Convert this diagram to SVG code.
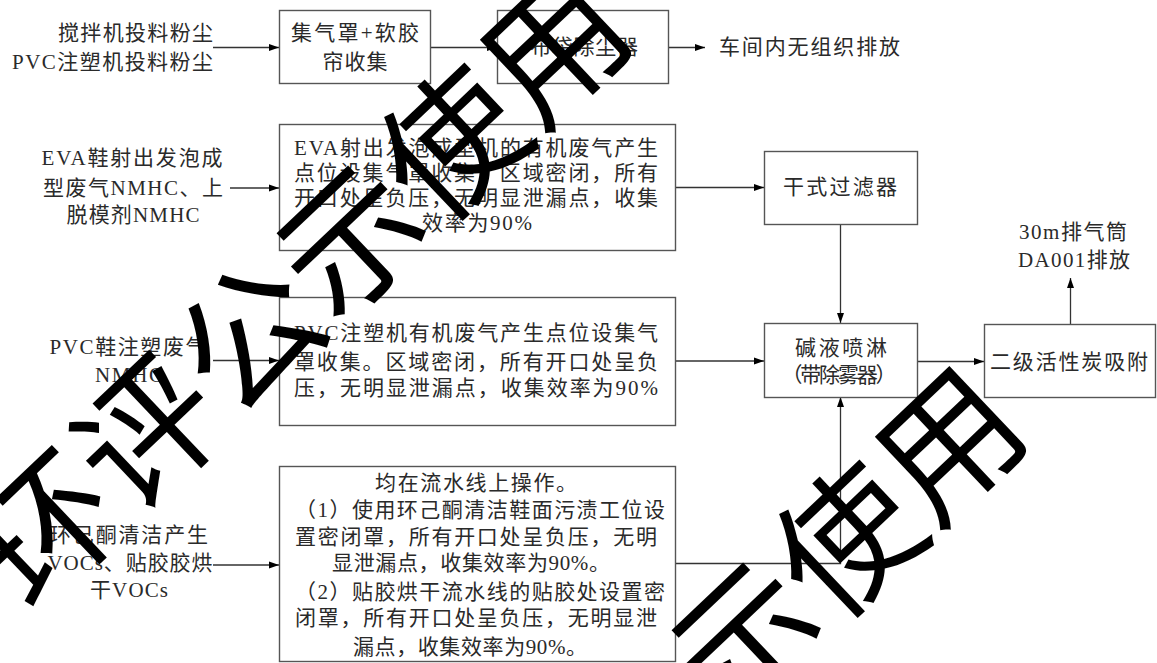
<svg xmlns="http://www.w3.org/2000/svg" width="1157" height="663" viewBox="0 0 1157 663">
<defs>
<style>
.t{font-family:"Liberation Serif","Noto Sans CJK SC",serif;font-size:21px;fill:#2a2a2a}
.c{text-anchor:middle}
.e{text-anchor:end}
.box{fill:#fff;stroke:#555;stroke-width:1.4}
.ln{fill:none;stroke:#333;stroke-width:1.3}
.wm{font-family:"Noto Sans CJK SC","Noto Sans CJK JP",sans-serif;font-size:140px;font-weight:400;fill:#000}
</style>
<marker id="ah" markerUnits="userSpaceOnUse" markerWidth="11" markerHeight="8" refX="10" refY="4" orient="auto">
<path d="M0,0.5 L10,4 L0,7.5 z" fill="#000"/>
</marker>
</defs>
<rect width="1157" height="663" fill="#fff"/>

<g id="connectors">
<line class="ln" x1="213" y1="47.5" x2="279" y2="47.5" marker-end="url(#ah)"/>
<line class="ln" x1="430" y1="47.5" x2="497" y2="47.5" marker-end="url(#ah)"/>
<line class="ln" x1="668" y1="47.5" x2="705" y2="47.5" marker-end="url(#ah)"/>
<line class="ln" x1="230" y1="188" x2="279" y2="188" marker-end="url(#ah)"/>
<line class="ln" x1="675" y1="187.5" x2="764" y2="187.5" marker-end="url(#ah)"/>
<line class="ln" x1="840.5" y1="224" x2="840.5" y2="323" marker-end="url(#ah)"/>
<line class="ln" x1="213" y1="360.5" x2="279" y2="360.5" marker-end="url(#ah)"/>
<line class="ln" x1="675" y1="361" x2="764" y2="361" marker-end="url(#ah)"/>
<line class="ln" x1="917" y1="361.5" x2="984" y2="361.5" marker-end="url(#ah)"/>
<line class="ln" x1="1070.5" y1="324" x2="1070.5" y2="278" marker-end="url(#ah)"/>
<line class="ln" x1="213" y1="565" x2="279" y2="565" marker-end="url(#ah)"/>
<polyline class="ln" points="675,563.5 840.5,563.5 840.5,397" marker-end="url(#ah)"/>
</g>

<g id="label-dust">
<text class="t e" x="213" y="40" textLength="155">搅拌机投料粉尘</text>
<text class="t e" x="213" y="69" textLength="201">PVC注塑机投料粉尘</text>
</g>
<g id="node-hood">
<rect class="box" x="279.5" y="10.5" width="151" height="73"/>
<text class="t c" x="355" y="40" textLength="128">集气罩+软胶</text>
<text class="t c" x="355" y="69" textLength="65">帘收集</text>
</g>
<g id="node-bag">
<rect class="box" x="497.5" y="10.5" width="171" height="73"/>
<text class="t c" x="584" y="54" textLength="108">布袋除尘器</text>
</g>
<g id="label-fugitive">
<text class="t" x="719" y="54" textLength="181">车间内无组织排放</text>
</g>

<g id="label-eva">
<text class="t c" x="132" y="165" textLength="181">EVA鞋射出发泡成</text>
<text class="t c" x="133" y="195" textLength="180">型废气NMHC、上</text>
<text class="t c" x="133" y="222" textLength="133">脱模剂NMHC</text>
</g>
<g id="node-eva">
<rect class="box" x="279.5" y="124.5" width="396" height="126"/>
<text class="t" x="294" y="155" textLength="364">EVA射出发泡成型机的有机废气产生</text>
<text class="t" x="294" y="180" textLength="364">点位设集气罩收集，区域密闭，所有</text>
<text class="t" x="294" y="205" textLength="364">开口处呈负压，无明显泄漏点，收集</text>
<text class="t c" x="477" y="230" textLength="110">效率为90%</text>
</g>
<g id="node-dryfilter">
<rect class="box" x="764.5" y="151.5" width="153" height="73"/>
<text class="t c" x="840" y="194" textLength="114">干式过滤器</text>
</g>

<g id="label-pvc">
<text class="t c" x="128" y="354" textLength="157">PVC鞋注塑废气</text>
<text class="t c" x="129" y="382" textLength="68">NMHC</text>
</g>
<g id="node-pvc">
<rect class="box" x="279.5" y="297.5" width="396" height="128"/>
<text class="t" x="294" y="340" textLength="364">PVC注塑机有机废气产生点位设集气</text>
<text class="t" x="294" y="369" textLength="364">罩收集。区域密闭，所有开口处呈负</text>
<text class="t" x="294" y="395" textLength="364">压，无明显泄漏点，收集效率为90%</text>
</g>
<g id="node-scrubber">
<rect class="box" x="764.5" y="323.5" width="153" height="74"/>
<text class="t c" x="841" y="355" textLength="92">碱液喷淋</text>
<text class="t c" x="839" y="382" textLength="115">（带除雾器）</text>
</g>
<g id="node-carbon">
<rect class="box" x="984.5" y="324.5" width="171" height="73"/>
<text class="t c" x="1069" y="369" textLength="158">二级活性炭吸附</text>
</g>
<g id="label-stack">
<text class="t c" x="1073" y="239" textLength="108">30m排气筒</text>
<text class="t c" x="1074" y="267" textLength="112">DA001排放</text>
</g>

<g id="label-voc">
<text class="t c" x="129" y="542" textLength="158">环己酮清洁产生</text>
<text class="t c" x="130" y="570" textLength="165">VOCs、贴胶胶烘</text>
<text class="t c" x="129" y="597" textLength="78">干VOCs</text>
</g>
<g id="node-line">
<rect class="box" x="279.5" y="466.5" width="396" height="195"/>
<text class="t c" x="476" y="490" textLength="202">均在流水线上操作。</text>
<text class="t" x="295" y="517" textLength="370">（1）使用环己酮清洁鞋面污渍工位设</text>
<text class="t" x="295" y="544" textLength="362">置密闭罩，所有开口处呈负压，无明</text>
<text class="t c" x="471" y="570" textLength="278">显泄漏点，收集效率为90%。</text>
<text class="t" x="295" y="599" textLength="370">（2）贴胶烘干流水线的贴胶处设置密</text>
<text class="t" x="295" y="625" textLength="362">闭罩，所有开口处呈负压，无明显泄</text>
<text class="t c" x="470" y="654" textLength="234">漏点，收集效率为90%。</text>
</g>

<g id="watermark">
<text class="wm" transform="translate(45,528) rotate(-43.5)" x="-70" y="53">环评公示使用</text>
<text class="wm" transform="translate(440,925) rotate(-43.5)" x="-70" y="53">环评公示使用</text>
</g>
</svg>
